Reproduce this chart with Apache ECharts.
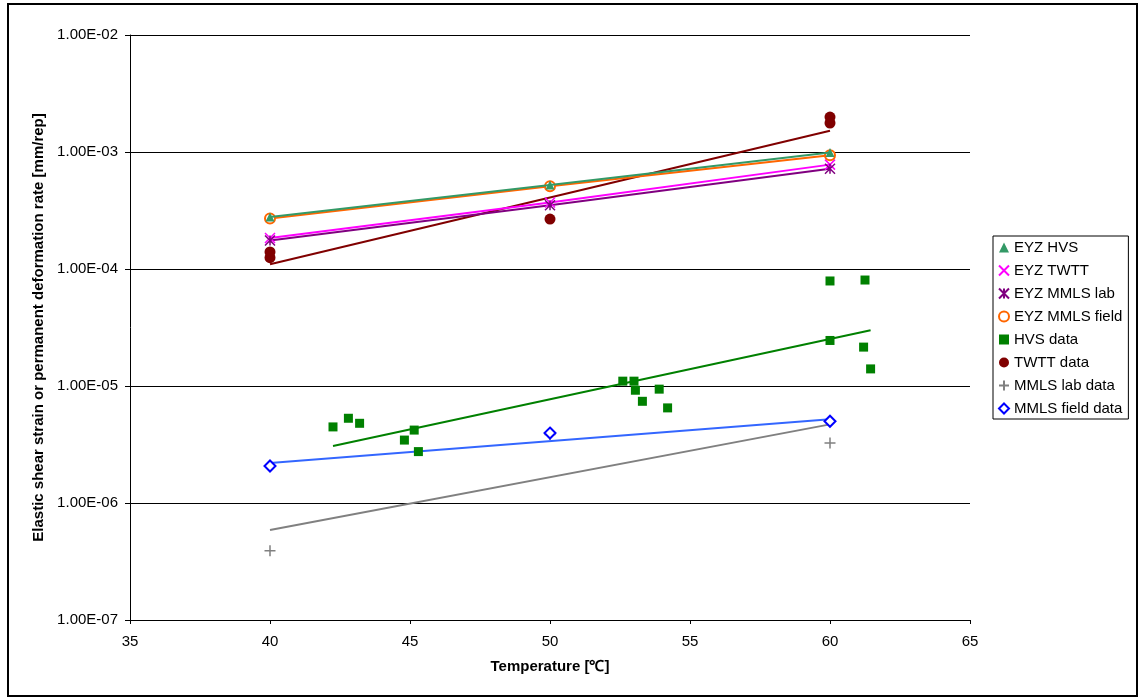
<!DOCTYPE html>
<html>
<head>
<meta charset="utf-8">
<script src="https://cdn.jsdelivr.net/npm/echarts@6/dist/echarts.min.js"></script>
<style>
  html, body { margin: 0; padding: 0; background: #fff; }
  #chart { width: 1140px; height: 699px; }
</style>
</head>
<body>
<div id="chart"></div>
<script>
// model temperatures
const eyzTemp = [40, 50, 60]
const eyzHvs = [2.78e-4, 5.22e-4, 9.9e-4]
const eyzTwtt = [1.84e-4, 3.7e-4, 7.8e-4]
const eyzLab = [1.75e-4, 3.5e-4, 7.2e-4]
const eyzField = [2.7e-4, 5.1e-4, 9.4e-4]

// measured data
const hvsTemp = [42.25, 42.8, 43.2, 44.8, 45.15, 45.3, 52.6, 53.0, 53.05, 53.3, 53.9, 54.2, 60.0, 61.25, 60.0, 61.2, 61.45]
const hvsRate = [4.47e-6, 5.3e-6, 4.8e-6, 3.45e-6, 4.2e-6, 2.75e-6, 1.1e-5, 1.1e-5, 9.2e-6, 7.4e-6, 9.4e-6, 6.5e-6, 7.9e-5, 8.05e-5, 2.45e-5, 2.15e-5, 1.4e-5]
const twttTemp = [40, 40, 50, 60, 60]
const twttRate = [1.4e-4, 1.25e-4, 2.67e-4, 1.99e-3, 1.77e-3]
const labTemp = [40, 50, 60]
const labRate = [3.9e-7, 3.85e-6, 3.25e-6]
const fieldTemp = [40, 50, 60]
const fieldRate = [2.07e-6, 3.96e-6, 5.0e-6]

// trend line end points
const hvsTrendTemp = [42.25, 61.45]
const hvsTrendRate = [3.07e-6, 3.0e-5]
const twttTrendTemp = [40, 60]
const twttTrendRate = [1.1e-4, 1.52e-3]
const labTrendTemp = [40, 60]
const labTrendRate = [5.87e-7, 4.7e-6]
const fieldTrendTemp = [40, 60]
const fieldTrendRate = [2.2e-6, 5.2e-6]

const yTicks = ['1.00E-07', '1.00E-06', '1.00E-05', '1.00E-04', '1.00E-03', '1.00E-02']

function pairs (xs, ys) {
  return xs.map((x, i) => [x, ys[i]])
}

const xMark = 'path://M0,0 L10,10 M10,0 L0,10'
const starMark = 'path://M0,0 L10,10 M10,0 L0,10 M5,0 L5,10'
const plusMark = 'path://M5,0 L5,10 M0,5 L10,5'

function trend (name, xs, ys, color) {
  return {
    name: name,
    type: 'line',
    data: pairs(xs, ys),
    symbol: 'none',
    lineStyle: { color: color, width: 2 },
    silent: true,
    z: 2
  }
}

const chart = echarts.init(document.getElementById('chart'))

const option = {
  animation: false,
  textStyle: { fontFamily: 'Liberation Sans, Arial, sans-serif' },
  grid: { left: 130, right: 170, top: 35, bottom: 79 },
  graphic: [{
    type: 'rect',
    shape: { x: 8, y: 4, width: 1129, height: 692 },
    style: { fill: 'none', stroke: '#000', lineWidth: 2 },
    silent: true
  }],
  legend: {
    orient: 'vertical',
    left: 993,
    top: 236,
    padding: [4, 6, 3, 5],
    itemGap: 8,
    itemWidth: 10,
    itemHeight: 10,
    borderColor: '#000',
    borderWidth: 1,
    textStyle: { fontSize: 15, color: '#000' },
    data: [
      { name: 'EYZ HVS', icon: 'triangle' },
      { name: 'EYZ TWTT', icon: xMark },
      { name: 'EYZ MMLS lab', icon: starMark },
      { name: 'EYZ MMLS field', icon: 'emptyCircle' },
      { name: 'HVS data', icon: 'rect' },
      { name: 'TWTT data', icon: 'circle' },
      { name: 'MMLS lab data', icon: plusMark },
      { name: 'MMLS field data', icon: 'emptyDiamond' }
    ]
  },
  xAxis: {
    type: 'value',
    min: 35,
    max: 65,
    interval: 5,
    name: 'Temperature [\u2103]',
    nameLocation: 'middle',
    nameGap: 39,
    nameTextStyle: { fontSize: 15, fontWeight: 'bold', color: '#000' },
    axisLine: { lineStyle: { color: '#000', width: 1 } },
    axisTick: { show: true, length: 4, lineStyle: { color: '#000' } },
    axisLabel: { fontSize: 15, color: '#000', margin: 14 },
    splitLine: { show: false }
  },
  yAxis: {
    type: 'log',
    logBase: 10,
    min: 1e-7,
    max: 1e-2,
    name: 'Elastic shear strain or permanent deformation rate [mm/rep]',
    nameLocation: 'middle',
    nameGap: 83,
    nameRotate: 90,
    nameTextStyle: { fontSize: 15, fontWeight: 'bold', color: '#000' },
    axisLine: { show: true, lineStyle: { color: '#000', width: 1 } },
    axisTick: { show: true, length: 5, lineStyle: { color: '#000' } },
    axisLabel: {
      fontSize: 15,
      color: '#000',
      margin: 12,
      formatter: function (v) {
        const i = Math.round(Math.log10(v)) + 7
        return yTicks[i] || ''
      }
    },
    splitLine: { show: true, lineStyle: { color: '#000', width: 1 } }
  },
  series: [
    trend('hvsTrend', hvsTrendTemp, hvsTrendRate, '#008000'),
    trend('twttTrend', twttTrendTemp, twttTrendRate, '#800000'),
    trend('labTrend', labTrendTemp, labTrendRate, '#808080'),
    trend('fieldTrend', fieldTrendTemp, fieldTrendRate, '#3366FF'),
    {
      name: 'EYZ HVS',
      type: 'line',
      data: pairs(eyzTemp, eyzHvs),
      symbol: 'triangle',
      symbolSize: 9,
      itemStyle: { color: '#339966' },
      lineStyle: { color: '#339966', width: 2 },
      z: 5
    },
    {
      name: 'EYZ TWTT',
      type: 'line',
      data: pairs(eyzTemp, eyzTwtt),
      symbol: xMark,
      symbolSize: 10,
      itemStyle: { color: '#FF00FF', borderColor: '#FF00FF', borderWidth: 1.5 },
      lineStyle: { color: '#FF00FF', width: 2 },
      z: 4
    },
    {
      name: 'EYZ MMLS lab',
      type: 'line',
      data: pairs(eyzTemp, eyzLab),
      symbol: starMark,
      symbolSize: 10,
      itemStyle: { color: '#800080', borderColor: '#800080', borderWidth: 1.5 },
      lineStyle: { color: '#800080', width: 2 },
      z: 4
    },
    {
      name: 'EYZ MMLS field',
      type: 'line',
      data: pairs(eyzTemp, eyzField),
      symbol: 'emptyCircle',
      symbolSize: 10,
      itemStyle: { color: '#FF6600', borderColor: '#FF6600', borderWidth: 2 },
      lineStyle: { color: '#FF6600', width: 2 },
      z: 4
    },
    {
      name: 'HVS data',
      type: 'scatter',
      data: pairs(hvsTemp, hvsRate),
      symbol: 'rect',
      symbolSize: 9,
      itemStyle: { color: '#008000', opacity: 1 },
      z: 6
    },
    {
      name: 'TWTT data',
      type: 'scatter',
      data: pairs(twttTemp, twttRate),
      symbol: 'circle',
      symbolSize: 11,
      itemStyle: { color: '#800000', opacity: 1 },
      z: 6
    },
    {
      name: 'MMLS lab data',
      type: 'scatter',
      data: pairs(labTemp, labRate),
      symbol: plusMark,
      symbolSize: 11,
      itemStyle: { color: '#808080', borderColor: '#808080', borderWidth: 1.5, opacity: 1 },
      z: 6
    },
    {
      name: 'MMLS field data',
      type: 'scatter',
      data: pairs(fieldTemp, fieldRate),
      symbol: 'emptyDiamond',
      symbolSize: 11,
      itemStyle: { color: '#0000FF', borderColor: '#0000FF', borderWidth: 2, opacity: 1 },
      z: 7
    }
  ]
}

chart.setOption(option)
</script>
</body>
</html>
